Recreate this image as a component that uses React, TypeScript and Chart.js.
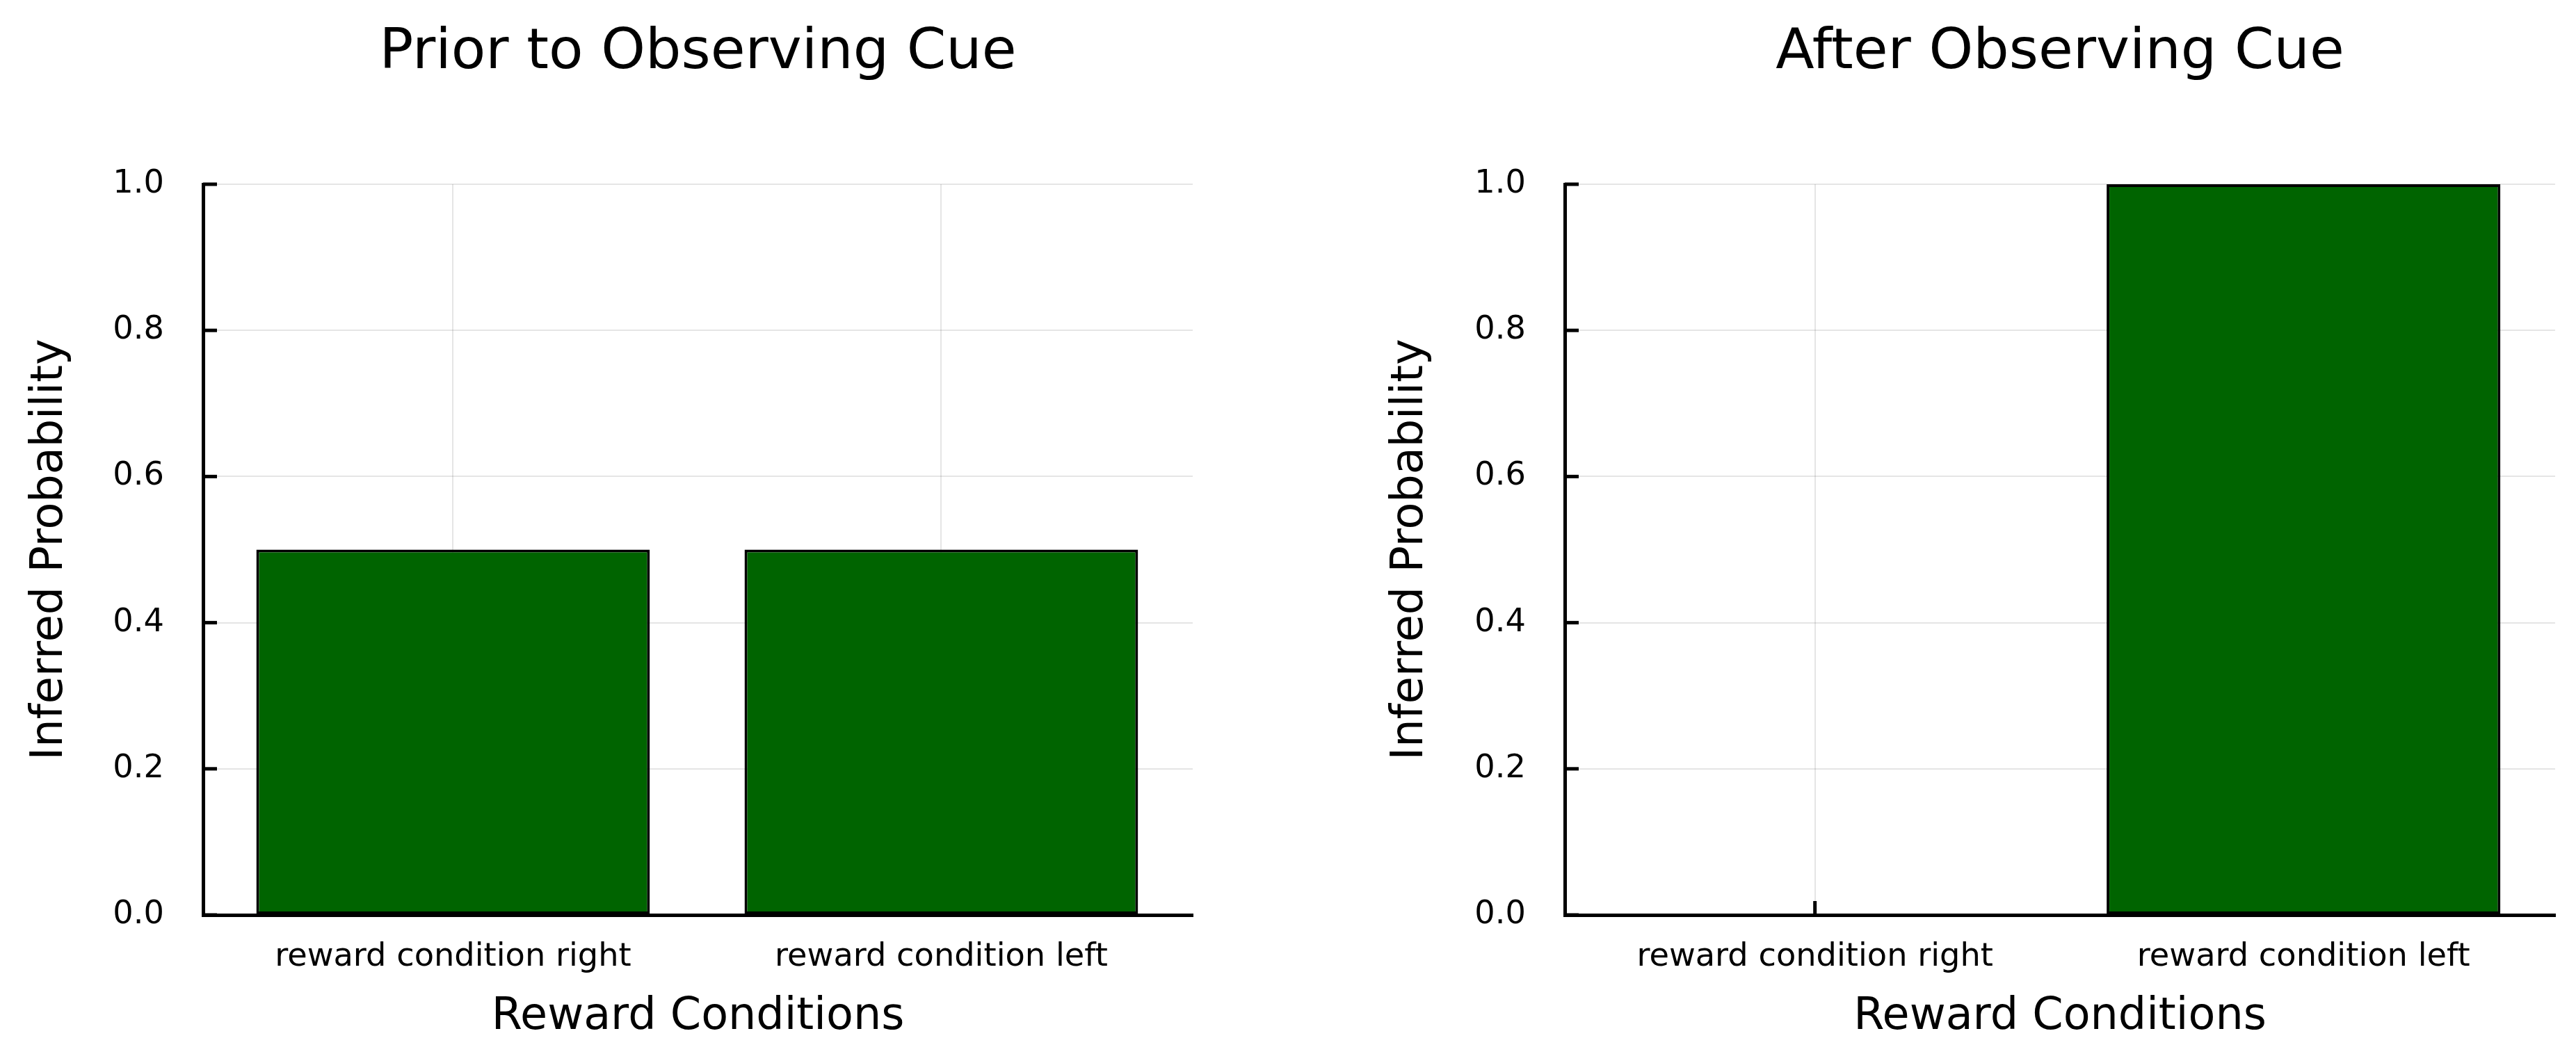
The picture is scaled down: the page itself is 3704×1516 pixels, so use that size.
import React, { useEffect, useRef } from "react";
import { Chart, registerables } from "chart.js";

Chart.register(...registerables);

const categories = ["reward condition right", "reward condition left"];
const priorValues = [0.5, 0.5];
const posteriorValues = [0.0, 1.0];
const panelTitles = ["Prior to Observing Cue", "After Observing Cue"];
const xAxisLabel = "Reward Conditions";
const yAxisLabel = "Inferred Probability";

const FONT = "'DejaVu Sans', 'Liberation Sans', sans-serif";
const BAR_COLOR = "#006400";
const GRID_COLOR = "rgba(0,0,0,0.1)";

const innerTicks = {
  id: "innerTicks",
  beforeDatasetsDraw(chart: any) {
    const { ctx, chartArea, scales } = chart;
    const len = 20;
    ctx.save();
    ctx.strokeStyle = "#000";
    ctx.lineWidth = 5;
    ctx.lineCap = "butt";
    const ys = scales.y;
    ys.ticks.forEach((t: any) => {
      const py = ys.getPixelForValue(t.value);
      ctx.beginPath();
      ctx.moveTo(chartArea.left, py);
      ctx.lineTo(chartArea.left + len, py);
      ctx.stroke();
    });
    const xs = scales.x;
    xs.ticks.forEach((t: any) => {
      const px = xs.getPixelForValue(t.value);
      ctx.beginPath();
      ctx.moveTo(px, chartArea.bottom);
      ctx.lineTo(px, chartArea.bottom - len);
      ctx.stroke();
    });
    ctx.restore();
  },
};

type PanelProps = {
  title: string;
  values: number[];
  padLeft: number;
  padRight: number;
  yWidth: number;
};

function Panel({ title, values, padLeft, padRight, yWidth }: PanelProps) {
  const ref = useRef<HTMLCanvasElement | null>(null);
  useEffect(() => {
    if (!ref.current) return;
    const chart = new Chart(ref.current, {
      type: "bar",
      data: {
        datasets: [
          {
            label: title,
            data: categories.map((_, i) => ({ x: i, y: values[i] })),
            backgroundColor: BAR_COLOR,
            borderColor: "#000",
            borderWidth: 4,
            borderSkipped: false,
            barPercentage: 0.806,
            categoryPercentage: 1.0,
          },
        ],
      },
      options: {
        animation: false,
        responsive: false,
        devicePixelRatio: 1,
        layout: { padding: { left: padLeft, right: padRight, top: 0, bottom: 0 } },
        plugins: {
          legend: { display: false },
          tooltip: { enabled: false },
          title: {
            display: true,
            text: title,
            fullSize: false,
            color: "#000",
            font: { family: FONT, size: 81, weight: "normal" },
            padding: { top: 28.4, bottom: 139.4 },
          },
        },
        scales: {
          x: {
            type: "linear",
            offset: false,
            min: -0.512,
            max: 1.515,
            afterBuildTicks: (scale: any) => {
              scale.ticks = categories.map((_, i) => ({ value: i }));
            },
            afterFit: (scale: any) => {
              scale.height = 200;
            },
            ticks: {
              autoSkip: false,
              maxRotation: 0,
              minRotation: 0,
              padding: 33,
              color: "#000",
              font: { family: FONT, size: 46.3 },
              callback: (v: any) => categories[Math.round(Number(v))] ?? "",
            },
            grid: { offset: false, color: GRID_COLOR, lineWidth: 2, drawTicks: false },
            border: { display: true, color: "#000", width: 5 },
            title: {
              display: true,
              text: xAxisLabel,
              color: "#000",
              font: { family: FONT, size: 63.6 },
              padding: { top: 0, bottom: 14 },
            },
          },
          y: {
            type: "linear",
            min: 0,
            max: 1,
            afterFit: (scale: any) => {
              scale.width = yWidth;
            },
            ticks: {
              stepSize: 0.2,
              padding: 56,
              color: "#000",
              font: { family: FONT, size: 46.3 },
              callback: (v: any) => Number(v).toFixed(1),
            },
            grid: { color: GRID_COLOR, lineWidth: 2, drawTicks: false },
            border: { display: true, color: "#000", width: 5 },
            title: {
              display: true,
              text: yAxisLabel,
              color: "#000",
              font: { family: FONT, size: 63.6 },
              padding: { top: 34.5, bottom: 0 },
            },
          },
        },
      } as any,
      plugins: [innerTicks],
    });
    return () => chart.destroy();
  }, [title, values, padLeft, padRight, yWidth]);
  return <canvas ref={ref} width={1852} height={1516} style={{ width: 1852, height: 1516, display: "block" }} />;
}

export default function App() {
  return (
    <div
      style={{
        position: "absolute",
        left: 0,
        top: 0,
        width: 3704,
        height: 1516,
        display: "flex",
        background: "#fff",
      }}
    >
      <Panel title={panelTitles[0]} values={priorValues} padLeft={0} padRight={137} yWidth={292} />
      <Panel title={panelTitles[1]} values={posteriorValues} padLeft={104} padRight={30} yWidth={294} />
    </div>
  );
}
